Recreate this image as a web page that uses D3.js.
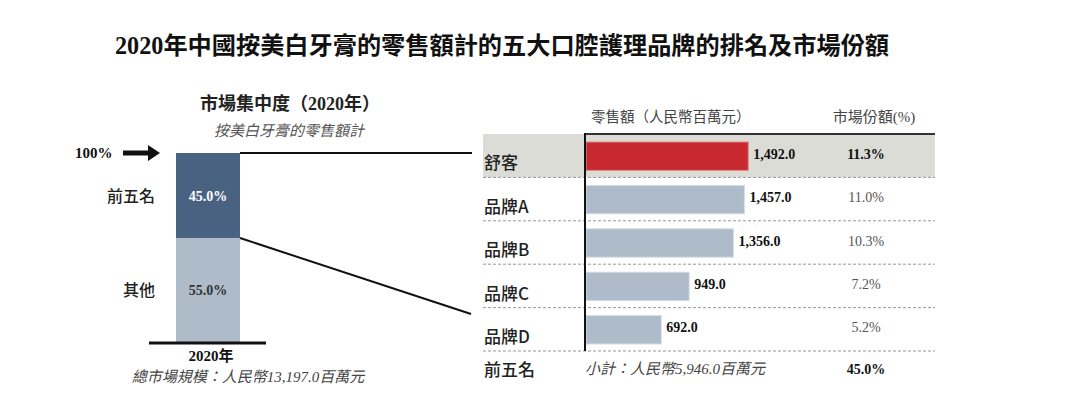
<!DOCTYPE html>
<html>
<head>
<meta charset="utf-8">
<title>五大口腔護理品牌</title>
<style>
  body { margin: 0; background: #fff; }
  svg text { font-family: "Liberation Serif", "Noto Sans CJK TC", serif; }
  .sans { font-family: "Noto Sans CJK TC", sans-serif !important; }
</style>
</head>
<body>
<svg id="chart" width="1080" height="397"></svg>
<script src="https://d3js.org/d3.v7.min.js"></script>
<script>
// data
var brands = ["舒客", "品牌A", "品牌B", "品牌C", "品牌D"];
var sales = [1492.0, 1457.0, 1356.0, 949.0, 692.0];
var shares = [11.3, 11.0, 10.3, 7.2, 5.2];
var concLabels = ["前五名", "其他"];
var concValues = [45.0, 55.0];

var svg = d3.select("#chart");

// title
svg.append("text")
  .attr("x", 115).attr("y", 54)
  .attr("font-size", 24.2).attr("font-weight", "bold")
  .attr("fill", "#111")
  .text("2020年中國按美白牙膏的零售額計的五大口腔護理品牌的排名及市場份額");

// ---- left: concentration ----
var yc = d3.scaleLinear().domain([0, 100]).range([342, 153]);
var bx = 176, bw = 64;

svg.append("text").attr("x", 290).attr("y", 110).attr("text-anchor", "middle")
  .attr("font-size", 18).attr("font-weight", "bold").attr("fill", "#222")
  .text("市場集中度（2020年）");
svg.append("text").attr("x", 289).attr("y", 136).attr("text-anchor", "middle")
  .attr("font-size", 15).attr("font-style", "italic").attr("fill", "#555")
  .text("按美白牙膏的零售額計");

// stack: top five on top, others below
var stack = [
  {label: concLabels[0], v: concValues[0], y0: 100 - concValues[0], y1: 100, fill: "#4a6282", tc: "#fff"},
  {label: concLabels[1], v: concValues[1], y0: 0, y1: concValues[1], fill: "#aebbc9", tc: "#333"}
];
svg.selectAll(".seg").data(stack).enter().append("rect")
  .attr("class", "seg")
  .attr("x", bx).attr("width", bw)
  .attr("y", function(d) { return yc(d.y1); })
  .attr("height", function(d) { return yc(d.y0) - yc(d.y1); })
  .attr("fill", function(d) { return d.fill; });
svg.selectAll(".segv").data(stack).enter().append("text")
  .attr("x", bx + bw / 2)
  .attr("y", function(d) { return (yc(d.y0) + yc(d.y1)) / 2 + 5; })
  .attr("text-anchor", "middle").attr("font-size", 14).attr("font-weight", "bold")
  .attr("fill", function(d) { return d.tc; })
  .text(function(d) { return d.v.toFixed(1) + "%"; });
svg.selectAll(".segl").data(stack).enter().append("text")
  .attr("class", "sans")
  .attr("x", 155)
  .attr("y", function(d) { return (yc(d.y0) + yc(d.y1)) / 2 + 6; })
  .attr("text-anchor", "end").attr("font-size", 16).attr("font-weight", 500)
  .attr("fill", "#222")
  .text(function(d) { return d.label; });

// baseline
svg.append("line").attr("x1", 149).attr("x2", 266).attr("y1", 343).attr("y2", 343)
  .attr("stroke", "#111").attr("stroke-width", 3);
svg.append("text").attr("x", 211).attr("y", 361).attr("text-anchor", "middle")
  .attr("font-size", 15).attr("font-weight", "bold").attr("fill", "#111").text("2020年");
svg.append("text").attr("x", 248).attr("y", 382).attr("text-anchor", "middle")
  .attr("font-size", 15).attr("font-style", "italic").attr("fill", "#444")
  .text("總市場規模：人民幣13,197.0百萬元");

// 100% arrow
svg.append("text").attr("x", 75).attr("y", 158).attr("font-size", 15)
  .attr("font-weight", "bold").attr("fill", "#111").text("100%");
svg.append("path")
  .attr("d", "M123,150.5 L148,150.5 L148,145 L160,153 L148,161 L148,155.5 L123,155.5 Z")
  .attr("fill", "#111");

// ---- right: ranking table ----
var yr = d3.scaleBand().domain(brands).range([134, 351]);
var xr = d3.scaleLinear().domain([0, 1600]).range([586, 760]);
var tl = 483, tr = 935;

svg.append("rect").attr("x", tl).attr("y", yr(brands[0]))
  .attr("width", tr - tl).attr("height", yr.bandwidth()).attr("fill", "#dcdcd7");

// connector lines
svg.append("line").attr("x1", bx + bw).attr("y1", yc(100)).attr("x2", 472).attr("y2", yc(100))
  .attr("stroke", "#111").attr("stroke-width", 2);
svg.append("line").attr("x1", bx + bw).attr("y1", yc(55)).attr("x2", 471).attr("y2", 314)
  .attr("stroke", "#111").attr("stroke-width", 2);

// headers
svg.append("text").attr("x", 591).attr("y", 122).attr("font-size", 14.5)
  .attr("fill", "#444").text("零售額（人民幣百萬元）");
svg.append("text").attr("x", 874).attr("y", 122).attr("text-anchor", "middle")
  .attr("font-size", 15).attr("fill", "#444").text("市場份額(%)");

var rows = brands.map(function(b, i) { return {brand: b, sales: sales[i], share: shares[i], first: i === 0}; });

svg.selectAll(".sep").data(rows).enter().append("line")
  .attr("x1", tl).attr("x2", tr)
  .attr("y1", function(d) { return yr(d.brand) + yr.bandwidth(); })
  .attr("y2", function(d) { return yr(d.brand) + yr.bandwidth(); })
  .attr("stroke", "#999").attr("stroke-width", 1).attr("stroke-dasharray", "3,2");

svg.selectAll(".bar").data(rows).enter().append("rect")
  .attr("x", xr(0))
  .attr("y", function(d) { return yr(d.brand) + 8; })
  .attr("width", function(d) { return xr(d.sales) - xr(0); })
  .attr("height", yr.bandwidth() - 15)
  .attr("fill", function(d) { return d.first ? "#c8282f" : "#aebbc9"; })
  .attr("stroke", function(d) { return d.first ? "#e08a8a" : "#d5dde6"; })
  .attr("stroke-width", 1);

svg.selectAll(".val").data(rows).enter().append("text")
  .attr("x", function(d) { return xr(d.sales) + 5; })
  .attr("y", function(d) { return yr(d.brand) + yr.bandwidth() / 2 + 3; })
  .attr("font-size", 14).attr("font-weight", "bold").attr("fill", "#111")
  .text(function(d) { return d3.format(",.1f")(d.sales); });

svg.selectAll(".shr").data(rows).enter().append("text")
  .attr("x", 866)
  .attr("y", function(d) { return yr(d.brand) + yr.bandwidth() / 2 + 3; })
  .attr("text-anchor", "middle").attr("font-size", 14)
  .attr("font-weight", function(d) { return d.first ? "bold" : "normal"; })
  .attr("fill", function(d) { return d.first ? "#111" : "#555"; })
  .text(function(d) { return d.share.toFixed(1) + "%"; });

svg.selectAll(".brand").data(rows).enter().append("text")
  .attr("class", "sans")
  .attr("x", tl + 1)
  .attr("y", function(d) { return yr(d.brand) + yr.bandwidth() - 8; })
  .attr("font-size", 17).attr("font-weight", 500).attr("fill", "#222")
  .text(function(d) { return d.brand; });

// axis line and top rule
svg.append("line").attr("x1", 585).attr("x2", tr).attr("y1", 134).attr("y2", 134)
  .attr("stroke", "#333").attr("stroke-width", 2);
svg.append("line").attr("x1", 585).attr("x2", 585).attr("y1", 133).attr("y2", 351)
  .attr("stroke", "#111").attr("stroke-width", 2);

// subtotal row
svg.append("text").attr("class", "sans").attr("x", tl + 1).attr("y", 376)
  .attr("font-size", 17).attr("font-weight", 500).attr("fill", "#222").text("前五名");
svg.append("text").attr("x", 585).attr("y", 374).attr("font-size", 15)
  .attr("font-style", "italic").attr("fill", "#444").text("小計：人民幣5,946.0百萬元");
svg.append("text").attr("x", 866).attr("y", 374).attr("text-anchor", "middle")
  .attr("font-size", 14).attr("font-weight", "bold").attr("fill", "#111").text("45.0%");
</script>
</body>
</html>
